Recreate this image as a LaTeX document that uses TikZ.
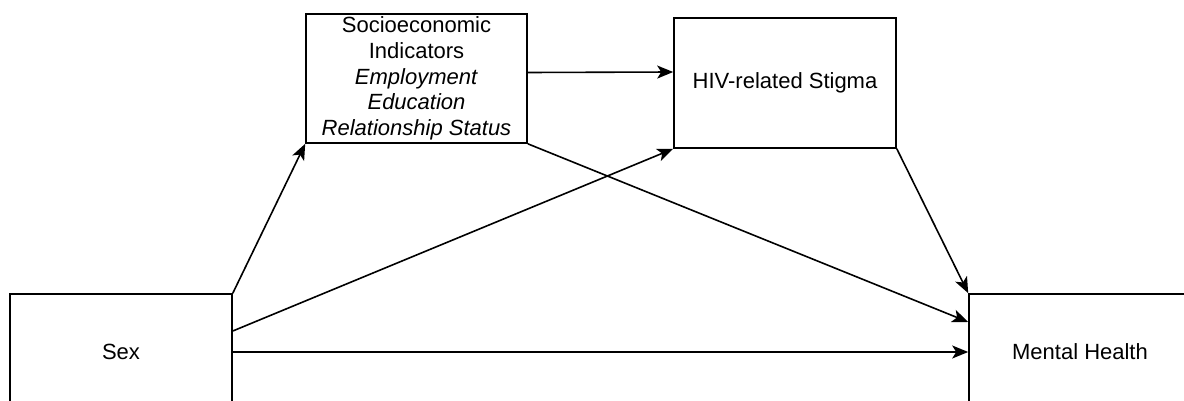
\documentclass[tikz,border=0pt]{standalone}
\usepackage{fontspec}
\setmainfont{Liberation Sans}
\usetikzlibrary{arrows.meta}
\begin{document}
\begin{tikzpicture}[x=1pt, y=-1pt,
    box/.style = {draw, line width=1.6pt, rectangle, align=center,
        minimum width=222pt, inner sep=0pt,
        font=\fontsize{22}{25.8}\selectfont},
    arr/.style = {line width=1.6pt, -{Stealth[length=16pt, width=13pt, inset=4pt]}}]
    \clip[use as bounding box] (0,0) rectangle (1184,401);
    \node[box, minimum height=116pt] (sex) at (121,352) {Sex};
    \node[box, minimum height=116pt] (mental) at (1080,352) {Mental Health};
    \node[box, minimum width=221pt, minimum height=129pt] (socio) at (416.5,78.5)
        {Socioeconomic\\Indicators\\\textit{Employment}\\\textit{Education}\\\textit{Relationship Status}};
    \node[box, minimum height=130pt] (stigma) at (785,83) {HIV-related Stigma};
    \draw[arr] (sex.north east) -- (socio.south west);
    \draw[arr] ([yshift=21pt]sex.east) -- (stigma.south west);
    \draw[arr] (sex.east) -- (mental.west);
    \draw[arr] ([yshift=6pt]socio.east) -- ([yshift=11pt]stigma.west);
    \draw[arr] (socio.south east) -- ([yshift=30pt]mental.west);
    \draw[arr] (stigma.south east) -- (mental.north west);
\end{tikzpicture}
\end{document}
